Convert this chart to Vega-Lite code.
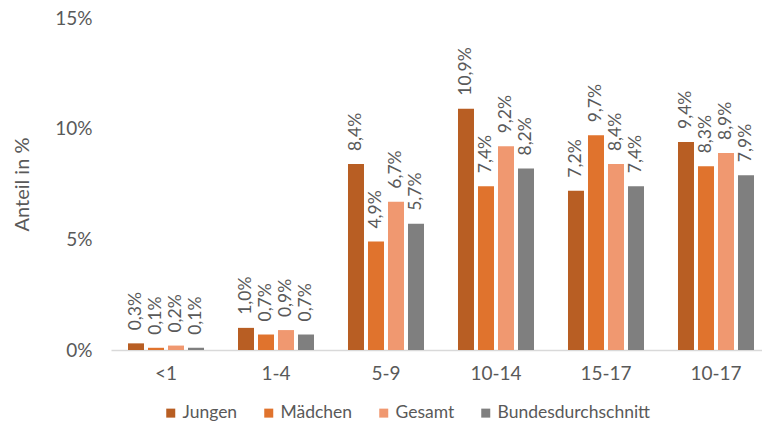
{
  "$schema": "https://vega.github.io/schema/vega-lite/v6.json",
  "autosize": "none",
  "width": 651,
  "height": 332,
  "padding": {"left": 111, "top": 18, "right": 0, "bottom": 74},
  "background": "white",
  "config": {
    "font": "Lato",
    "view": {"stroke": null}
  },
  "data": {
    "values": [
      {"Alter": "<1", "Gruppe": "Jungen", "Anteil": 0.3, "Label": "0,3%"},
      {"Alter": "<1", "Gruppe": "Mädchen", "Anteil": 0.1, "Label": "0,1%"},
      {"Alter": "<1", "Gruppe": "Gesamt", "Anteil": 0.2, "Label": "0,2%"},
      {"Alter": "<1", "Gruppe": "Bundesdurchschnitt", "Anteil": 0.1, "Label": "0,1%"},
      {"Alter": "1-4", "Gruppe": "Jungen", "Anteil": 1.0, "Label": "1,0%"},
      {"Alter": "1-4", "Gruppe": "Mädchen", "Anteil": 0.7, "Label": "0,7%"},
      {"Alter": "1-4", "Gruppe": "Gesamt", "Anteil": 0.9, "Label": "0,9%"},
      {"Alter": "1-4", "Gruppe": "Bundesdurchschnitt", "Anteil": 0.7, "Label": "0,7%"},
      {"Alter": "5-9", "Gruppe": "Jungen", "Anteil": 8.4, "Label": "8,4%"},
      {"Alter": "5-9", "Gruppe": "Mädchen", "Anteil": 4.9, "Label": "4,9%"},
      {"Alter": "5-9", "Gruppe": "Gesamt", "Anteil": 6.7, "Label": "6,7%"},
      {"Alter": "5-9", "Gruppe": "Bundesdurchschnitt", "Anteil": 5.7, "Label": "5,7%"},
      {"Alter": "10-14", "Gruppe": "Jungen", "Anteil": 10.9, "Label": "10,9%"},
      {"Alter": "10-14", "Gruppe": "Mädchen", "Anteil": 7.4, "Label": "7,4%"},
      {"Alter": "10-14", "Gruppe": "Gesamt", "Anteil": 9.2, "Label": "9,2%"},
      {"Alter": "10-14", "Gruppe": "Bundesdurchschnitt", "Anteil": 8.2, "Label": "8,2%"},
      {"Alter": "15-17", "Gruppe": "Jungen", "Anteil": 7.2, "Label": "7,2%"},
      {"Alter": "15-17", "Gruppe": "Mädchen", "Anteil": 9.7, "Label": "9,7%"},
      {"Alter": "15-17", "Gruppe": "Gesamt", "Anteil": 8.4, "Label": "8,4%"},
      {"Alter": "15-17", "Gruppe": "Bundesdurchschnitt", "Anteil": 7.4, "Label": "7,4%"},
      {"Alter": "10-17", "Gruppe": "Jungen", "Anteil": 9.4, "Label": "9,4%"},
      {"Alter": "10-17", "Gruppe": "Mädchen", "Anteil": 8.3, "Label": "8,3%"},
      {"Alter": "10-17", "Gruppe": "Gesamt", "Anteil": 8.9, "Label": "8,9%"},
      {"Alter": "10-17", "Gruppe": "Bundesdurchschnitt", "Anteil": 7.9, "Label": "7,9%"}
    ]
  },
  "encoding": {
    "x": {
      "field": "Alter", "type": "nominal", "sort": null,
      "scale": {"paddingInner": 0.309, "paddingOuter": 0.1136, "align": 0.68},
      "axis": {
        "title": null, "labelAngle": 0, "labelFontSize": 19, "labelColor": "#595959",
        "labelPadding": 14, "ticks": false, "domainColor": "#D9D9D9", "domainWidth": 1.5
      }
    },
    "xOffset": {
      "field": "Gruppe", "type": "nominal", "sort": ["Jungen", "Mädchen", "Gesamt", "Bundesdurchschnitt"],
      "scale": {"paddingInner": 0.2, "paddingOuter": 0}
    },
    "y": {
      "field": "Anteil", "type": "quantitative",
      "scale": {"domain": [0, 15], "nice": false},
      "axis": {
        "title": "Anteil in %", "titleFontSize": 20, "titleFontWeight": "normal", "titleColor": "#595959",
        "titlePadding": 22,
        "values": [0, 5, 10, 15], "labelExpr": "datum.value + '%'",
        "labelFontSize": 19, "labelColor": "#595959", "labelPadding": 19,
        "grid": false, "domain": false, "ticks": false
      }
    }
  },
  "layer": [
    {
      "mark": {"type": "bar"},
      "encoding": {
        "color": {
          "field": "Gruppe", "type": "nominal",
          "scale": {
            "domain": ["Jungen", "Mädchen", "Gesamt", "Bundesdurchschnitt"],
            "range": ["#B85E23", "#E0732D", "#F09870", "#7F7F7F"]
          },
          "legend": {
            "title": null, "orient": "none", "direction": "horizontal",
            "legendX": 51, "legendY": 386, "labelLimit": 300,
            "symbolType": "square", "symbolSize": 81, "symbolStrokeWidth": 0,
            "labelFontSize": 17.5, "labelColor": "#595959", "labelOffset": 3,
            "columnPadding": 22
          }
        }
      }
    },
    {
      "mark": {"type": "text", "angle": 270, "align": "left", "baseline": "middle", "dx": 13, "fontSize": 17.5, "color": "#595959"},
      "encoding": {
        "text": {"field": "Label", "type": "nominal"}
      }
    }
  ]
}
